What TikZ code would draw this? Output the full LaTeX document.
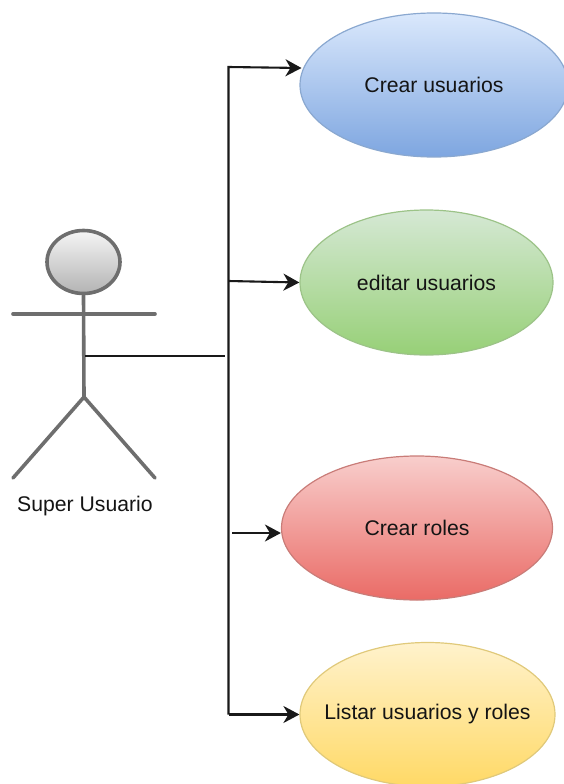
\documentclass[tikz,border=0pt]{standalone}
\usepackage{fontspec}
\setmainfont{Liberation Sans}
\usetikzlibrary{shapes.geometric,arrows.meta}
\definecolor{blueTop}{HTML}{DAE8FC}\definecolor{blueBot}{HTML}{7EA6E0}\definecolor{blueLine}{HTML}{8AA8D0}
\definecolor{greenTop}{HTML}{D5E8D4}\definecolor{greenBot}{HTML}{97D077}\definecolor{greenLine}{HTML}{9CC388}
\definecolor{redTop}{HTML}{F8CECC}\definecolor{redBot}{HTML}{EA6B66}\definecolor{redLine}{HTML}{C97C78}
\definecolor{yelTop}{HTML}{FFF2CC}\definecolor{yelBot}{HTML}{FFD966}\definecolor{yelLine}{HTML}{E0C97A}
\definecolor{actTop}{HTML}{F5F5F5}\definecolor{actBot}{HTML}{B3B3B3}\definecolor{actLine}{HTML}{6E6E6E}
\newcommand{\casetext}[1]{\makebox[0pt]{#1}}
\tikzset{
  usecase/.style={ellipse,inner sep=0pt,line width=1.2pt,font=\fontsize{21.2}{24}\selectfont,text=black!92},
  limb/.style={draw=actLine,line width=3.6pt,line cap=round},
  link/.style={draw=black!90,line width=2.1pt},
  arrowlink/.style={link,-{Stealth[length=16pt,width=17pt,inset=5pt]}},
}
\begin{document}
\begin{tikzpicture}[x=1pt,y=-1pt]
\useasboundingbox (0,0) rectangle (563,784);
\node[usecase,minimum width=268pt,minimum height=144pt,top color=blueTop,bottom color=blueBot,draw=blueLine] (crear) at (434,85) {\casetext{Crear usuarios}};
\node[usecase,minimum width=253pt,minimum height=145pt,top color=greenTop,bottom color=greenBot,draw=greenLine] (editar) at (426.5,282.5) {\casetext{editar usuarios}};
\node[usecase,minimum width=271pt,minimum height=144pt,top color=redTop,bottom color=redBot,draw=redLine] (roles) at (417,528) {\casetext{Crear roles}};
\node[usecase,minimum width=255pt,minimum height=144pt,top color=yelTop,bottom color=yelBot,draw=yelLine] (listar) at (427.5,714.5) {\casetext{Listar usuarios y roles}};
% actor
\node[ellipse,inner sep=0pt,minimum width=73pt,minimum height=63pt,line width=3.6pt,draw=actLine,top color=actTop,bottom color=actBot] (head) at (83.5,262) {};
\coordinate (hip) at (84,397);
\coordinate (armL) at (13,314);
\coordinate (armR) at (155,314);
\coordinate (footL) at (13,478);
\coordinate (footR) at (155,478);
\draw[limb] (head.south) -- (hip);
\draw[limb] (armL) -- (armR);
\draw[limb] (footL) -- (hip) -- (footR);
\node[font=\fontsize{21.2}{24}\selectfont,text=black!92] (name) at (85,506) {Super Usuario};
% connectors
\coordinate (actorOut) at (85,356);
\coordinate (busEnd) at (225,356);
\coordinate (top) at (228.5,67);
\coordinate (bottom) at (228.5,714.5);
\coordinate (midA) at (228.5,281);
\coordinate (redStart) at (232,533);
\coordinate (blueEnd) at (301.5,68);
\draw[link] (actorOut) -- (busEnd);
\draw[arrowlink] (bottom) -- (top) -- (blueEnd);
\draw[arrowlink] (midA) -- (editar.west);
\draw[arrowlink] (redStart) -- (roles.west |- redStart);
\draw[arrowlink] (bottom) -- (listar.west);
\end{tikzpicture}
\end{document}
